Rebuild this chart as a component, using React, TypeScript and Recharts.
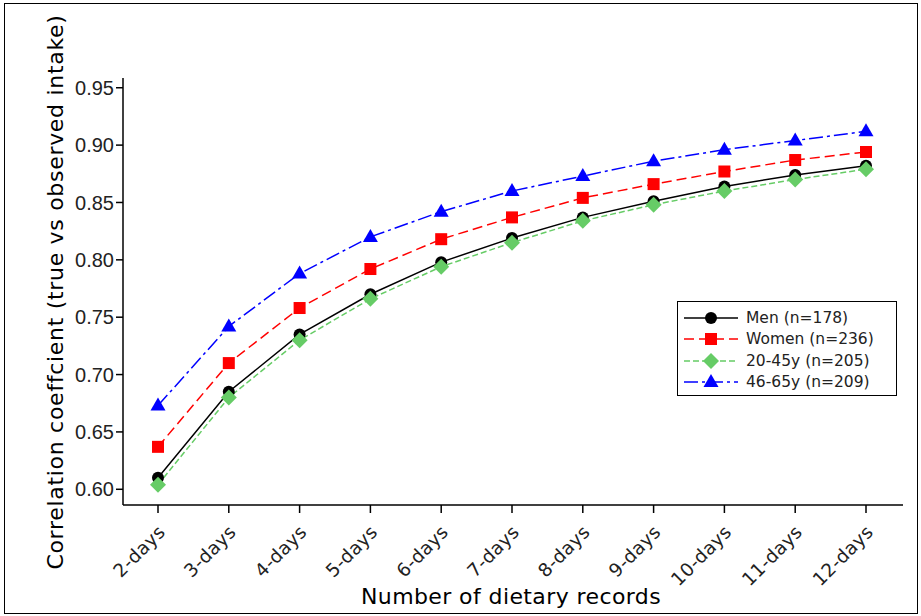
import React from 'react';
import { LineChart, Line, XAxis, YAxis, Legend } from 'recharts';

const categories = ['2-days', '3-days', '4-days', '5-days', '6-days', '7-days', '8-days', '9-days', '10-days', '11-days', '12-days'];
const men = [0.610, 0.685, 0.735, 0.770, 0.798, 0.819, 0.837, 0.851, 0.864, 0.874, 0.882];
const women = [0.637, 0.710, 0.758, 0.792, 0.818, 0.837, 0.854, 0.866, 0.877, 0.887, 0.894];
const young = [0.604, 0.680, 0.730, 0.766, 0.794, 0.815, 0.834, 0.848, 0.860, 0.870, 0.879];
const older = [0.673, 0.742, 0.788, 0.820, 0.842, 0.860, 0.873, 0.886, 0.896, 0.904, 0.912];
const yTicks = [0.60, 0.65, 0.70, 0.75, 0.80, 0.85, 0.90, 0.95];
const seriesNames = ['Men (n=178)', 'Women (n=236)', '20-45y (n=205)', '46-65y (n=209)'];

const data = categories.map((c, i) => ({ cat: c, men: men[i], women: women[i], young: young[i], older: older[i] }));

const Circle = (p: any) => p.cx == null ? null : <circle cx={p.cx} cy={p.cy} r={6} fill="#000" />;
const Square = (p: any) => p.cx == null ? null : <rect x={p.cx - 6} y={p.cy - 6} width={12} height={12} fill="#ff0000" />;
const Diamond = (p: any) => p.cx == null ? null : <polygon points={`${p.cx},${p.cy - 8} ${p.cx + 8},${p.cy} ${p.cx},${p.cy + 8} ${p.cx - 8},${p.cy}`} fill="#66cc66" />;
const Tri = (p: any) => p.cx == null ? null : <polygon points={`${p.cx},${p.cy - 8} ${p.cx + 7.5},${p.cy + 5} ${p.cx - 7.5},${p.cy + 5}`} fill="#0000ff" />;

const XTick = (p: any) => {
  const { x, y, payload } = p;
  return (
    <g transform={`translate(${x - 1},${y + 9})`}>
      <text x={0} y={0} dy={13} textAnchor="end" transform="rotate(-45)" fontFamily="DejaVu Sans" fontSize={18.5} letterSpacing={0.3} fill="#222">{payload.value}</text>
    </g>
  );
};

const legendItems = [
  { name: seriesNames[0], color: '#000', dash: undefined, M: Circle },
  { name: seriesNames[1], color: '#ff0000', dash: '10 5', M: Square },
  { name: seriesNames[2], color: '#66cc66', dash: '6 3', M: Diamond },
  { name: seriesNames[3], color: '#0000ff', dash: '14 4 3 4', M: Tri },
];

const LegendBox = () => (
  <div style={{ border: '1.5px solid #000', background: '#fff', width: 220, height: 95, boxSizing: 'border-box', paddingTop: 5 }}>
    {legendItems.map((it) => (
      <div key={it.name} style={{ display: 'flex', alignItems: 'center', height: 21.5 }}>
        <svg width={68} height={20}>
          <line x1={6} x2={60} y1={10} y2={10} stroke={it.color} strokeWidth={1.5} strokeDasharray={it.dash} />
          <it.M cx={33} cy={10} />
        </svg>
        <span style={{ fontFamily: 'DejaVu Sans', fontSize: 15.5, color: '#222' }}>{it.name}</span>
      </div>
    ))}
  </div>
);

export default function App() {
  return (
    <div style={{ position: 'absolute', left: 0, top: 0, width: 921, height: 616, background: '#fff' }}>
      <div style={{ position: 'absolute', left: 4, top: 3, width: 914, height: 611, border: '1.5px solid #000', boxSizing: 'border-box' }} />
      <LineChart width={921} height={616} data={data} margin={{ top: 78, right: 18, bottom: 41, left: 63 }}>
        <XAxis dataKey="cat" xAxisId="b" padding={{ left: 35, right: 37 }} tick={<XTick />} tickLine={{ stroke: '#000', strokeWidth: 1.5 }} tickSize={8} axisLine={{ stroke: '#000', strokeWidth: 1.5 }} height={70} interval={0}
          label={{ content: () => <text x={511} y={604} textAnchor="middle" fontFamily="DejaVu Sans" fontSize={22} letterSpacing={0.4} fill="#000">Number of dietary records</text> }} />
        <XAxis dataKey="cat" xAxisId="t" orientation="top" padding={{ left: 35, right: 37 }} tick={false} tickLine={false} axisLine={{ stroke: '#000', strokeWidth: 1.5 }} height={0} />
        <YAxis yAxisId="l" domain={[0.5863, 0.9585]} ticks={yTicks} tickFormatter={(v: number) => v.toFixed(2)} tick={{ fontFamily: 'Liberation Sans', fontSize: 20, fill: '#222' }} tickLine={{ stroke: '#000', strokeWidth: 1.5 }} tickSize={7} axisLine={{ stroke: '#000', strokeWidth: 1.5 }} width={60}
          label={{ content: () => <text x={63} y={292} transform="rotate(-90, 63, 292)" textAnchor="middle" fontFamily="DejaVu Sans" fontSize={22} letterSpacing={0.7} fill="#000">Correlation coeffcient (true vs observed intake)</text> }} />
        <YAxis yAxisId="r" orientation="right" domain={[0.5863, 0.9585]} tick={false} tickLine={false} axisLine={{ stroke: '#000', strokeWidth: 1.5 }} width={0} />
        <Legend content={<LegendBox />} layout="horizontal" verticalAlign="middle" align="center" wrapperStyle={{ position: 'absolute', left: 677, top: 301, width: 220 }} />
        <Line xAxisId="b" yAxisId="l" dataKey="men" name={seriesNames[0]} stroke="#000" strokeWidth={1.5} dot={<Circle />} isAnimationActive={false} />
        <Line xAxisId="b" yAxisId="l" dataKey="young" name={seriesNames[2]} stroke="#66cc66" strokeWidth={1.5} strokeDasharray="6 3" dot={<Diamond />} isAnimationActive={false} />
        <Line xAxisId="b" yAxisId="l" dataKey="women" name={seriesNames[1]} stroke="#ff0000" strokeWidth={1.5} strokeDasharray="10 5" dot={<Square />} isAnimationActive={false} />
        <Line xAxisId="b" yAxisId="l" dataKey="older" name={seriesNames[3]} stroke="#0000ff" strokeWidth={1.5} strokeDasharray="14 4 3 4" dot={<Tri />} isAnimationActive={false} />
      </LineChart>
    </div>
  );
}
